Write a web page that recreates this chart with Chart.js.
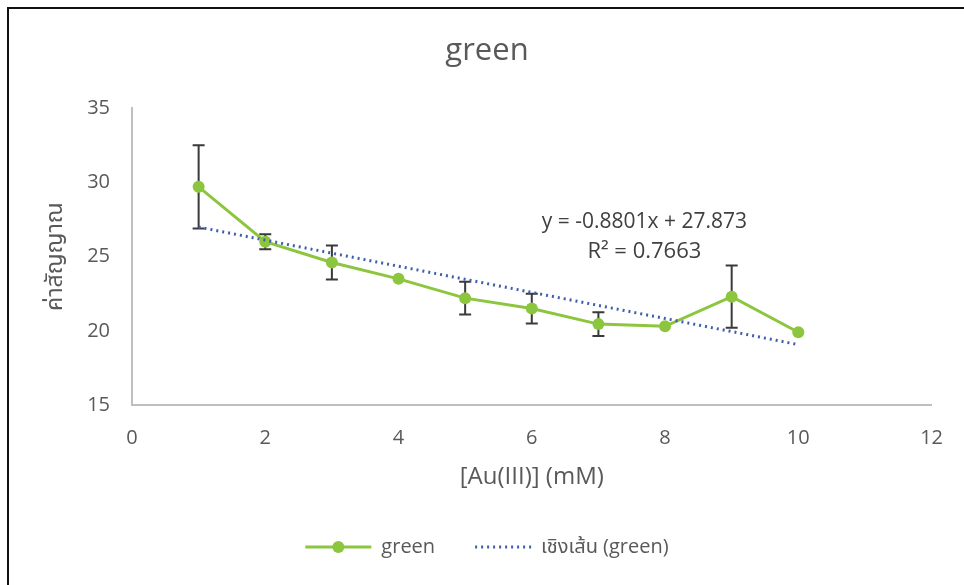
<!DOCTYPE html>
<html>
<head>
<meta charset="utf-8">
<script src="https://cdn.jsdelivr.net/npm/chart.js@4"></script>
<style>
  html, body { margin: 0; padding: 0; background: #fff; overflow: hidden; }
  #wrap { position: relative; width: 964px; height: 585px; }
  #frame { position: absolute; left: 7px; top: 7px; right: 0; bottom: 0;
           border-left: 2px solid #111; border-top: 2px solid #111; pointer-events: none; }
</style>
</head>
<body>
<div id="wrap">
  <canvas id="greenChart" width="964" height="585"></canvas>
  <div id="frame"></div>
</div>
<script>
const concentrations = [1, 2, 3, 4, 5, 6, 7, 8, 9, 10];
const signalValues = [29.7, 26.0, 24.6, 23.5, 22.2, 21.5, 20.45, 20.3, 22.3, 19.9];
const signalErrors = [2.8, 0.5, 1.15, 0.1, 1.1, 1.0, 0.8, 0.1, 2.1, 0.1];
const trendX = [1, 10];
const trendY = [26.99, 19.07];
const equationLines = ['y = -0.8801x + 27.873', 'R\u00B2 = 0.7663'];

const green = '#8CC63E';
const trendBlue = '#3F5EAE';
const textGray = '#595959';
const fontFamily = "'Open Sans', 'Noto Sans', 'Noto Sans Thai', sans-serif";

const errorBars = {
    id: 'errorBars',
    beforeDatasetsDraw(chart) {
        const { ctx, scales: { x, y } } = chart;
        ctx.save();
        ctx.strokeStyle = '#3a3a3a';
        ctx.lineWidth = 2;
        concentrations.forEach((c, i) => {
            if (signalErrors[i] < 0.2) return;
            const px = x.getPixelForValue(c);
            const top = y.getPixelForValue(signalValues[i] + signalErrors[i]);
            const bottom = y.getPixelForValue(signalValues[i] - signalErrors[i]);
            ctx.beginPath();
            ctx.moveTo(px, top);
            ctx.lineTo(px, bottom);
            ctx.moveTo(px - 6, top);
            ctx.lineTo(px + 6, top);
            ctx.moveTo(px - 6, bottom);
            ctx.lineTo(px + 6, bottom);
            ctx.stroke();
        });
        ctx.restore();
    },
};

const equationLabel = {
    id: 'equationLabel',
    afterDatasetsDraw(chart) {
        const { ctx, scales: { x, y } } = chart;
        ctx.save();
        ctx.fillStyle = '#404040';
        ctx.textAlign = 'center';
        ctx.textBaseline = 'middle';
        ctx.font = `21px ${fontFamily}`;
        ctx.fillText(equationLines[0], x.getPixelForValue(7.69), y.getPixelForValue(27.32));
        ctx.font = `22px ${fontFamily}`;
        ctx.fillText(equationLines[1], x.getPixelForValue(7.69), y.getPixelForValue(25.3));
        ctx.restore();
    },
};

const legendSymbols = {
    id: 'legendSymbols',
    afterDraw(chart) {
        const boxes = chart.legend.legendHitBoxes;
        const { ctx } = chart;
        ctx.save();
        boxes.forEach((box, i) => {
            const cy = box.top + box.height / 2;
            const left = box.left;
            const right = box.left + 66;
            ctx.beginPath();
            if (i === 0) {
                ctx.strokeStyle = green;
                ctx.lineWidth = 3;
                ctx.moveTo(left, cy);
                ctx.lineTo(right, cy);
                ctx.stroke();
                ctx.fillStyle = green;
                ctx.beginPath();
                ctx.arc((left + right) / 2, cy, 6, 0, Math.PI * 2);
                ctx.fill();
            } else {
                ctx.strokeStyle = trendBlue;
                ctx.lineWidth = 3;
                ctx.setLineDash([2, 4]);
                ctx.moveTo(left + 10, cy);
                ctx.lineTo(right, cy);
                ctx.stroke();
                ctx.setLineDash([]);
            }
        });
        ctx.restore();
    },
};

new Chart(document.getElementById('greenChart'), {
    type: 'line',
    data: {
        datasets: [
            {
                label: 'green',
                data: concentrations.map((c, i) => ({ x: c, y: signalValues[i] })),
                borderColor: green,
                backgroundColor: green,
                borderWidth: 3,
                pointRadius: 6,
                pointBorderWidth: 0,
                pointBackgroundColor: green,
                tension: 0,
                order: 1,
            },
            {
                label: 'เชิงเส้น (green)',
                data: trendX.map((c, i) => ({ x: c, y: trendY[i] })),
                borderColor: trendBlue,
                borderWidth: 3,
                borderDash: [2, 4],
                pointRadius: 0,
                fill: false,
                order: 0,
            },
        ],
    },
    options: {
        responsive: false,
        animation: false,
        events: [],
        layout: { padding: { left: 42, right: 32, top: 0, bottom: 18 } },
        plugins: {
            title: {
                display: true,
                text: 'green',
                color: textGray,
                font: { family: fontFamily, size: 31, weight: 'normal' },
                padding: { top: 33, bottom: 38 },
            },
            legend: {
                position: 'bottom',
                labels: {
                    color: textGray,
                    font: { family: fontFamily, size: 20 },
                    boxWidth: 66,
                    boxHeight: 2,
                    padding: 30,
                    sort: (a, b) => a.datasetIndex - b.datasetIndex,
                    generateLabels: chart => chart.data.datasets.map((ds, i) => ({
                        text: ds.label,
                        datasetIndex: i,
                        fillStyle: 'rgba(0,0,0,0)',
                        strokeStyle: 'rgba(0,0,0,0)',
                        lineWidth: 0,
                        fontColor: textGray,
                    })),
                },
            },
            tooltip: { enabled: false },
        },
        scales: {
            x: {
                type: 'linear',
                min: 0,
                max: 12,
                afterFit: scale => { scale.height = 102; },
                grid: { display: false, drawTicks: false },
                border: { display: true, color: '#bfbfbf', width: 2 },
                ticks: {
                    stepSize: 2,
                    padding: 21,
                    color: textGray,
                    font: { family: fontFamily, size: 20 },
                },
                title: {
                    display: true,
                    text: '[Au(III)] (mM)',
                    color: textGray,
                    font: { family: fontFamily, size: 24 },
                    padding: { top: 0, bottom: 15 },
                },
            },
            y: {
                min: 15,
                max: 35,
                afterFit: scale => { scale.width = 90; },
                grid: { display: false, drawTicks: false },
                border: { display: true, color: '#bfbfbf', width: 2 },
                ticks: {
                    stepSize: 5,
                    padding: 22,
                    color: textGray,
                    font: { family: fontFamily, size: 20 },
                },
                title: {
                    display: true,
                    text: 'ค่าสัญญาณ',
                    color: textGray,
                    font: { family: fontFamily, size: 23 },
                    padding: { top: 0, bottom: 0 },
                },
            },
        },
    },
    plugins: [errorBars, equationLabel, legendSymbols],
});
</script>
</body>
</html>
